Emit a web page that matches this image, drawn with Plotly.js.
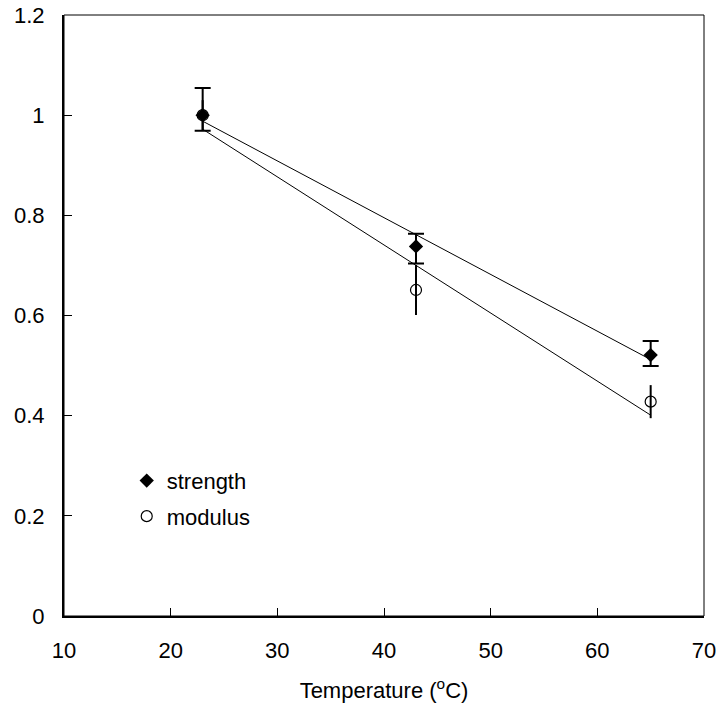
<!DOCTYPE html>
<html>
<head>
<meta charset="utf-8">
<script src="https://cdn.plot.ly/plotly-3.0.1.min.js"></script>
<style>html,body{margin:0;padding:0;background:#fff;}#chart{width:723px;height:719px;}</style>
</head>
<body>
<div id="chart"></div>
<script>
// Data
var temperature = [23, 43, 65];
var strength = [1.0, 0.738, 0.521];
var strengthErrPlus = [0.054, 0.025, 0.028];
var strengthErrMinus = [0.031, 0.034, 0.022];
var modulus = [1.0, 0.651, 0.428];
var modulusErr = [0.03, 0.05, 0.033];
// Linear trend line end points
var fitX = [23, 65];
var strengthFit = [0.988, 0.512];
var modulusFit = [0.972, 0.401];

var font = {family: 'Liberation Sans, Arial, sans-serif', size: 22, color: '#000'};

var traces = [
  {x: fitX, y: strengthFit, mode: 'lines', line: {color: '#000', width: 1}, showlegend: false, hoverinfo: 'skip'},
  {x: fitX, y: modulusFit, mode: 'lines', line: {color: '#000', width: 1}, showlegend: false, hoverinfo: 'skip'},
  {x: temperature, y: modulus, mode: 'markers', name: 'modulus', legendgroup: 'b', legendrank: 2,
   marker: {symbol: 'circle-open', size: 11, color: '#000', line: {width: 1.2, color: '#000'}},
   error_y: {type: 'data', array: modulusErr, visible: true, color: '#000', thickness: 2, width: 0}},
  {x: temperature, y: strength, mode: 'markers', name: 'strength', legendgroup: 'a', legendrank: 1,
   marker: {symbol: 'diamond', size: 11, color: '#000'},
   error_y: {type: 'data', symmetric: false, array: strengthErrPlus, arrayminus: strengthErrMinus, visible: true, color: '#000', thickness: 2, width: 8}}
];

var layout = {
  width: 723, height: 719,
  margin: {l: 64, r: 19, t: 15, b: 103},
  paper_bgcolor: '#fff', plot_bgcolor: '#fff',
  font: font,
  showlegend: true,
  legend: {x: 0.098, y: 0.26, xanchor: 'left', yanchor: 'top', bgcolor: 'rgba(0,0,0,0)',
           font: font, traceorder: 'grouped', tracegroupgap: 4, itemwidth: 30},
  xaxis: {range: [10, 70], dtick: 10, tick0: 10, showgrid: false, zeroline: false,
          showline: true, linecolor: '#000', linewidth: 2,
          ticks: 'inside', ticklen: 8, tickwidth: 1, tickcolor: '#000',
          ticklabelstandoff: 14, tickfont: font,
          title: {text: 'Temperature (<sup>o</sup>C)', font: font, standoff: 20}},
  yaxis: {range: [0, 1.2], dtick: 0.2, tick0: 0, showgrid: false, zeroline: false,
          showline: true, linecolor: '#000', linewidth: 2,
          ticks: 'inside', ticklen: 8, tickwidth: 1, tickcolor: '#000',
          ticklabelstandoff: 13, tickfont: font},
  shapes: [{type: 'rect', xref: 'paper', yref: 'paper', x0: 0, x1: 1, y0: 0, y1: 1,
            line: {color: '#000', width: 1}, layer: 'below'}]
};

Plotly.newPlot('chart', traces, layout, {displayModeBar: false, staticPlot: true});
</script>
</body>
</html>
